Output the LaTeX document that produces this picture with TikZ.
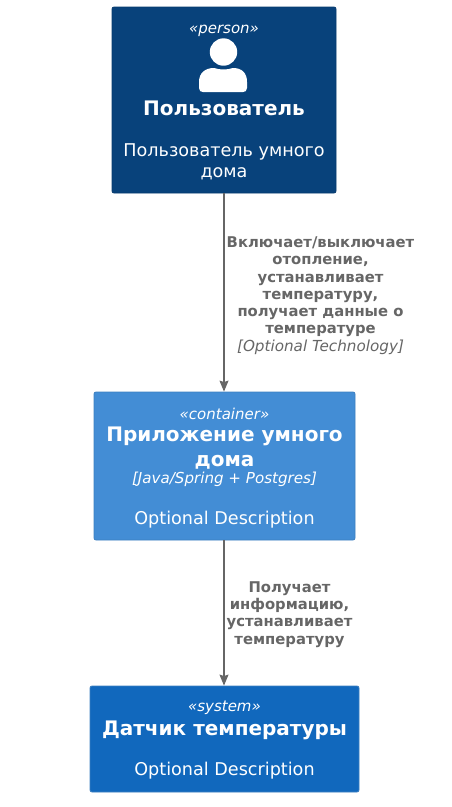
\documentclass[tikz,border=0pt]{standalone}
\usepackage{fontspec}
\setmainfont{DejaVu Sans}
\usetikzlibrary{arrows.meta, positioning}
\definecolor{PersonBlue}{HTML}{08427B}
\definecolor{PersonEdge}{HTML}{073B6F}
\definecolor{ContainerBlue}{HTML}{438DD5}
\definecolor{ContainerEdge}{HTML}{3C7FC0}
\definecolor{SystemBlue}{HTML}{1168BD}
\definecolor{SystemEdge}{HTML}{3C7FC0}
\definecolor{LinkGray}{HTML}{666666}
\newcommand{\stereo}[1]{{\fontsize{15}{17}\selectfont\spaceskip=.32em\itshape #1\par}}
\newcommand{\boxtitle}[1]{{\fontsize{20}{25}\selectfont\spaceskip=.35em\bfseries #1\par}}
\newcommand{\boxtext}[1]{{\fontsize{17.6}{21}\selectfont\spaceskip=.32em #1\par}}
\newcommand{\boxtech}[1]{{\fontsize{15.1}{17}\selectfont\spaceskip=.32em\itshape #1\par}}
\newcommand{\linktext}[1]{{\fontsize{14.8}{17.3}\selectfont\spaceskip=.35em\bfseries #1\par}}
\newcommand{\linktech}[1]{{\fontsize{15.2}{17.3}\selectfont\spaceskip=.32em\itshape #1\par}}
\tikzset{
  c4box/.style={rounded corners=2pt, line width=0.8pt, text=white, align=center, inner sep=0pt, text width=#1},
  linklabel/.style={text=LinkGray, align=center, inner sep=0pt, text width=#1},
  linkarrow/.style={-{Stealth[length=11pt,width=9pt,inset=1.5pt]}, line width=1.1pt, LinkGray}
}
\begin{document}
\begin{tikzpicture}[x=1pt,y=-1pt]
    \useasboundingbox (0,0) rectangle (452,807);

    % Person
    \node[c4box=224pt, draw=PersonEdge, fill=PersonBlue, minimum height=186pt] (person) at (224,100) {
      \stereo{«person»}
      \vspace{57pt}
      \boxtitle{Пользователь}
      \vspace{20pt}
      \boxtext{Пользователь умного\\дома}
      \vspace{-6pt}
    };
    \fill[white] (223.5,52) circle (13.7);
    \fill[white] (199,88) -- (199,82) .. controls (199,73) and (205,68) .. (214,68)
      .. controls (220,70) and (227,70) .. (233,68)
      .. controls (242,68) and (247,73) .. (247,82) -- (247,88)
      .. controls (247,91) and (245,92) .. (243,92) -- (203,92)
      .. controls (201,92) and (199,91) .. (199,88) -- cycle;

    % Container
    \node[c4box=261pt, draw=ContainerEdge, fill=ContainerBlue, minimum height=148pt] (app) at (224.5,466) {
      \stereo{«container»}
      \vspace{-3pt}
      \boxtitle{Приложение умного\\дома}
      \boxtech{[Java/Spring + Postgres]}
      \vspace{20pt}
      \boxtext{Optional Description}
      \vspace{-4pt}
    };

    % System
    \node[c4box=269pt, draw=SystemEdge, fill=SystemBlue, minimum height=106pt] (sensor) at (224.5,739) {
      \stereo{«system»}
      \vspace{-1pt}
      \boxtitle{Датчик температуры}
      \vspace{19pt}
      \boxtext{Optional Description}
      \vspace{-3pt}
    };

    \draw[linkarrow] (person.south -| 224,0) -- (app.north -| 224,0);
    \draw[linkarrow] (app.south -| 224,0) -- (sensor.north -| 224,0);

    % Link labels
    \node[linklabel=200pt] (controlLabel) at (320.5,295.5) {
      \linktext{Включает/выключает\\отопление,\\устанавливает\\температуру,\\получает данные о\\температуре}
      \linktech{[Optional Technology]}
    };
    \node[linklabel=200pt] (readLabel) at (289.5,614.5) {
      \linktext{Получает\\информацию,\\устанавливает\\температуру}
    };
\end{tikzpicture}
\end{document}
